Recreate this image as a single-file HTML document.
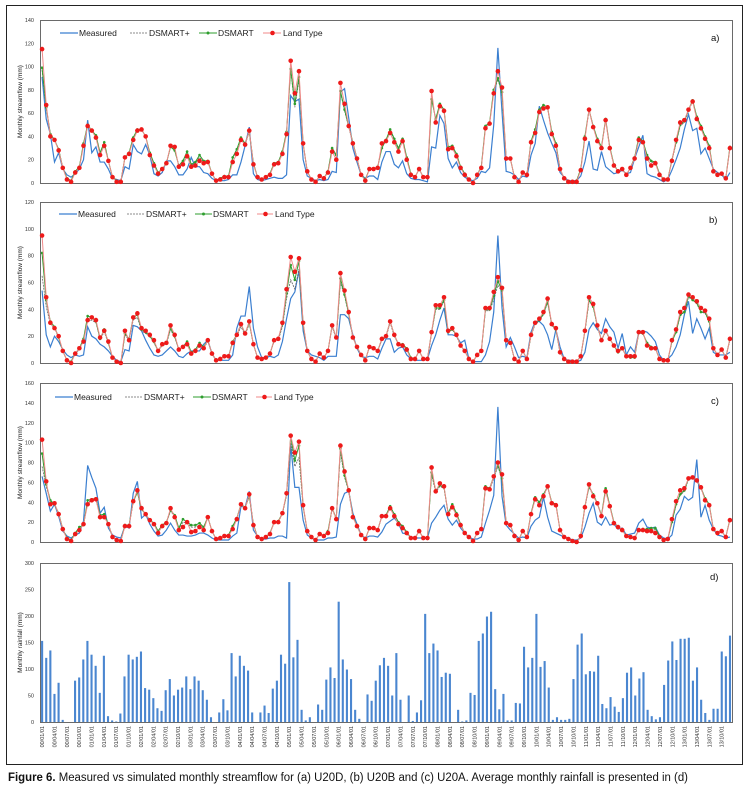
<!DOCTYPE html>
<html>
<head>
<meta charset="utf-8">
<style>
html,body{margin:0;padding:0;background:#fff;}
svg{display:block;font-family:"Liberation Sans",sans-serif;}
</style>
</head>
<body>
<svg id="fig" width="750" height="790" viewBox="0 0 750 790" xmlns="http://www.w3.org/2000/svg">
  <rect x="6.5" y="5.5" width="736" height="759" fill="none" stroke="#222" stroke-width="1"/>
  <text x="8" y="781" font-size="11.5" fill="#111" textLength="680" lengthAdjust="spacingAndGlyphs"><tspan font-weight="bold">Figure 6.</tspan> Measured vs simulated monthly streamflow for (a) U20D, (b) U20B and (c) U20A. Average monthly rainfall is presented in (d)</text>
</svg>
<script>
// ---------- DATA ----------
const measuredA = [91,55,42,18,26,12,7,5,8,12, 20,54,26,31,18,18,12,4,3,2, 14,12,33,27,25,33,24,8,6,9, 19,19,14,7,7,12,22,14,14,9, 8,4,2,2,2,3,7,7,18,32, 48,8,3,2,3,4,5,4,4,7, 75,70,72,20,6,4,2,3,2,3, 10,9,78,81,56,30,18,7,4,6, 6,3,18,27,27,16,13,19,8,4, 3,3,2,1,31,30,58,51,21,13, 18,9,5,3,2,4,10,9,13,50, 116,61,10,9,7,3,6,5,24,34, 66,54,43,34,26,9,5,2,2,2, 6,18,36,12,11,27,14,11,8,9, 11,8,9,21,31,41,8,6,5,3, 1,3,11,20,30,46,59,45,47,25, 30,21,12,9,7,3,9];
const landTypeA = [115,67,40,37,28,13,3,1,9,13, 32,49,45,39,24,32,19,5,1,1, 22,25,37,45,46,40,24,15,8,12, 17,32,31,14,16,23,14,15,19,17, 18,8,2,3,5,5,18,25,37,33, 45,16,5,3,5,7,16,17,25,42, 105,77,96,34,10,3,1,6,4,9, 27,20,86,68,49,34,21,7,2,12, 12,13,34,36,43,35,27,36,20,7, 5,12,5,5,79,52,66,62,29,30, 23,13,7,3,0,7,13,47,51,77, 96,82,21,21,5,1,9,7,35,43, 61,64,65,42,32,12,4,1,1,1, 11,38,63,48,36,30,54,30,15,10, 12,7,13,21,37,35,21,15,17,7, 3,3,19,37,52,54,63,70,55,47, 38,30,10,7,8,4,30];
const dsmartA = [99,65,42,37,29,13,4,2,10,14, 34,50,45,41,26,35,19,5,2,1, 22,26,39,46,46,40,26,17,9,12, 17,31,28,15,19,27,16,18,24,19, 19,8,2,4,6,6,22,29,39,34, 44,17,5,3,5,8,17,18,27,44, 98,68,91,34,10,3,1,6,4,10, 30,24,79,63,49,35,21,7,3,12, 12,14,30,37,46,38,30,38,22,8, 5,12,5,5,72,55,68,63,31,32, 25,14,8,3,0,7,14,49,52,80, 90,78,21,21,5,1,9,7,36,46, 63,67,65,44,34,12,4,1,1,2, 12,40,63,49,38,31,55,31,16,10, 12,7,13,22,39,36,24,19,18,8, 3,3,20,35,50,53,63,71,57,49, 40,32,10,7,8,4,31];
const dsmartPlusA = [97,64,42,37,29,13,4,2,10,14, 33,49,45,40,26,34,19,5,2,1, 22,26,38,45,46,40,25,16,9,12, 17,31,29,15,18,25,15,17,22,18, 19,8,2,4,6,6,21,28,38,33, 44,17,5,3,5,8,17,18,26,43, 97,65,88,33,10,3,1,6,4,10, 29,23,78,62,48,34,21,7,3,12, 12,14,31,36,45,37,29,37,21,8, 5,12,5,5,73,54,66,62,30,31, 24,14,8,3,0,7,14,48,51,78, 89,77,21,21,5,1,9,7,35,44, 62,65,64,43,33,12,4,1,1,2, 12,39,62,48,37,30,54,30,15,10, 12,7,13,21,38,35,23,18,17,8, 3,3,19,34,49,52,62,70,56,48, 39,31,10,7,8,4,30];

const measuredB = [54,21,12,20,16,10,6,4,6,5, 6,27,20,18,14,12,9,5,2,1, 10,9,28,27,24,17,11,6,5,6, 9,12,9,5,4,7,9,9,9,14, 17,7,2,2,2,2,6,26,35,35, 57,26,12,4,4,5,4,6,16,33, 48,53,69,24,9,6,5,4,2,5, 5,5,36,36,33,21,11,5,4,5, 5,3,11,18,18,8,11,12,6,3, 2,2,2,3,13,21,32,41,21,21, 20,15,17,3,1,1,1,6,16,38, 95,41,12,19,12,4,5,4,23,31, 31,28,21,10,25,12,3,2,2,1, 2,8,25,30,25,22,33,27,23,11, 22,6,12,8,23,24,23,20,16,6, 2,3,6,12,21,36,46,22,33,26, 18,26,8,6,6,6,8];
const landTypeB = [95,49,30,26,20,9,2,0,7,11, 16,32,34,32,19,24,16,4,1,0, 24,17,34,37,26,24,21,17,9,14, 15,28,21,10,12,14,7,9,13,11, 17,7,2,3,5,5,15,21,29,22, 31,14,4,3,4,7,17,18,30,55, 79,68,78,30,9,3,1,7,4,9, 28,19,67,54,38,19,12,6,2,12, 11,9,18,20,31,21,14,13,10,3, 3,9,3,3,23,43,43,49,24,26, 21,13,9,3,1,6,9,41,41,53, 64,56,17,15,3,1,9,3,21,30, 33,38,48,29,26,8,3,1,1,1, 5,24,49,44,28,17,24,18,13,9, 11,5,5,5,23,23,13,11,11,3, 2,2,17,25,38,41,51,49,46,41, 39,33,11,6,10,4,18];
const dsmartB = [82,47,31,27,19,9,2,1,7,11, 18,35,34,31,18,25,15,4,1,0, 22,18,34,36,25,23,20,16,9,14, 15,26,20,10,12,16,8,10,15,12, 17,7,2,3,5,5,16,21,29,22, 30,14,4,3,4,7,17,18,29,52, 73,62,76,29,9,3,1,7,4,9, 28,19,63,51,37,19,12,6,2,12, 11,9,18,20,31,21,14,14,11,4, 3,9,3,3,23,41,41,47,23,25, 21,13,9,3,1,6,9,40,40,50, 61,54,17,15,3,1,9,3,21,30, 32,37,46,29,25,8,3,1,1,1, 5,24,47,42,28,17,24,18,13,8, 11,5,4,4,23,22,15,12,11,3, 2,2,16,23,36,38,50,47,45,38, 38,31,11,6,10,4,18];
const dsmartPlusB = [65,42,29,26,19,9,2,1,7,10, 17,31,32,30,18,23,15,4,1,0, 21,17,32,34,24,22,20,15,9,13, 14,25,19,10,12,14,7,9,13,11, 16,7,2,3,5,5,15,20,27,21, 29,14,4,3,4,7,16,17,27,48, 62,55,70,28,9,3,1,7,4,9, 27,18,60,50,36,19,12,6,2,12, 11,9,17,19,30,20,14,13,10,3, 3,9,3,3,22,40,40,46,23,25, 20,13,9,3,1,6,9,39,39,47, 58,53,17,15,3,1,9,3,20,29, 31,36,45,28,25,8,3,1,1,1, 5,23,46,42,27,17,23,18,13,8, 11,5,5,5,22,22,14,11,11,3, 2,2,16,23,35,38,49,47,44,38, 37,31,11,6,10,4,17];

const measuredC = [66,49,31,38,26,11,6,4,7,9, 21,77,65,54,29,35,14,7,5,4, 16,14,49,61,24,28,18,11,6,7, 12,19,12,7,7,6,6,7,9,9, 7,4,2,2,2,2,6,9,36,35, 51,12,6,3,3,4,4,6,6,4, 98,55,55,22,7,4,2,2,2,4, 4,5,38,49,51,29,18,7,4,6, 6,5,10,18,21,24,19,9,8,5, 4,4,4,4,19,25,32,37,23,17, 22,14,9,5,3,3,5,19,32,47, 136,46,17,12,8,4,5,4,16,22, 25,45,25,11,9,7,5,4,2,2, 4,15,29,39,20,17,25,17,18,13, 14,7,8,9,19,23,15,14,15,7, 4,3,7,27,33,46,42,45,83,25, 37,22,13,7,6,4,5];
const landTypeC = [103,61,38,39,28,13,3,1,8,12, 18,38,42,43,25,25,18,5,2,1, 16,16,41,52,34,28,22,18,9,16, 19,34,25,12,15,20,10,11,15,12, 25,11,3,4,6,6,13,23,38,34, 48,17,5,3,5,8,20,20,29,49, 107,90,101,37,11,5,2,8,6,9, 34,23,97,71,52,25,16,7,3,14, 14,12,26,26,34,26,18,14,9,4, 4,11,4,4,75,51,59,56,28,35, 27,17,9,5,1,9,13,54,53,66, 80,68,19,17,6,2,11,5,28,43, 37,46,56,39,37,12,5,3,1,0, 6,35,58,46,39,26,51,36,19,15, 12,6,5,4,12,12,11,11,9,5, 2,3,23,41,52,54,64,65,62,55, 42,37,13,9,11,5,22];
const dsmartC = [89,58,42,38,29,13,4,2,9,15, 17,42,43,44,27,28,18,5,2,1, 17,17,41,50,33,28,22,19,11,17, 20,32,27,14,23,20,17,17,19,15, 25,11,3,4,6,7,16,24,38,35, 46,18,5,3,5,9,20,21,29,48, 106,82,97,36,11,5,2,8,6,11, 34,24,94,67,52,26,16,7,3,14, 14,12,26,27,36,28,20,16,10,4, 4,11,4,4,70,52,57,55,29,38, 29,18,9,5,1,9,13,56,54,66, 78,64,19,17,6,2,11,5,29,45, 40,48,56,40,38,12,5,3,1,0, 6,36,56,48,39,27,54,37,20,15, 12,6,5,4,12,13,13,14,14,6, 2,3,20,38,48,52,64,65,62,55, 44,38,13,9,11,5,23];
const dsmartPlusC = [76,56,41,38,28,13,4,2,9,14, 17,40,42,43,26,27,18,5,2,1, 17,17,40,50,33,28,22,18,10,16, 19,31,26,13,20,19,15,15,17,14, 24,11,3,4,6,7,15,23,37,34, 46,18,5,3,5,9,19,20,28,47, 100,76,85,35,11,5,2,8,6,10, 33,23,90,65,51,25,16,7,3,14, 14,12,26,26,35,27,19,15,10,4, 4,11,4,4,68,50,56,54,28,36, 28,17,9,5,1,9,13,54,52,64, 76,63,19,17,6,2,11,5,28,44, 38,46,55,39,37,12,5,3,1,0, 6,35,55,47,38,26,52,36,19,15, 12,6,5,4,12,12,12,13,12,6, 2,3,20,37,47,51,63,64,61,54, 43,37,13,9,11,5,22];

const rainfallD = [153,121,135,53,74,4,0,0,78,84, 118,153,127,106,55,125,11,3,1,16, 86,127,118,123,133,64,61,45,26,21, 60,81,50,61,65,86,62,86,78,60, 42,9,0,18,43,22,130,86,125,106, 97,18,0,18,31,17,63,78,127,110, 264,122,155,23,3,9,0,33,23,80, 103,83,227,118,99,81,23,6,0,52, 40, 78,107,121,106,50,130,42,0,50,2, 18,41,204,130,148,135,85,93,91,0, 23,1,3,55,51,153,167,199,208,62, 24,53,3,3,36,35,142,103,121,204, 104,115,65,4,9,4,4,6,81,146, 167,90,96,95,125,34,26,47,29,19, 45,93,103,50,82,94,23,11,5,9, 70,116,152,117,157,157,159,78,103,42, 17,4,25,25,133,124,163];

const tickA = [0,20,40,60,80,100,120,140];
const tickB = [0,20,40,60,80,100,120];
const tickC = [0,20,40,60,80,100,120,140,160];
const tickD = [0,50,100,150,200,250,300];
const startYear = 0, startMonth = 1, labelStep = 3;

// ---------- DRAW ----------
const NS = "http://www.w3.org/2000/svg";
const svg = document.getElementById('fig');
function mk(tag, attrs, parent){
  const e = document.createElementNS(NS, tag);
  for (const k in attrs) e.setAttribute(k, attrs[k]);
  (parent||svg).appendChild(e);
  return e;
}
const X0 = 40, X1 = 732;
function xScale(i, n){ const w=(X1-X0)/n; return X0 + w*(i+0.5); }
function yScale(v, p){ return p.bottom - (v - 0)/(p.max) * (p.bottom - p.top); }

const panels = [
  {id:'a', top:20, bottom:183, max:140, ticks:tickA, title:'Monthly streamflow (mm)', label:'a)', lx:711, ly:41,
   leg:[60,78,130,148,199,217,263,282], legY:33,
   series:{measured:measuredA, plus:dsmartPlusA, dsmart:dsmartA, land:landTypeA}},
  {id:'b', top:202, bottom:363, max:120, ticks:tickB, title:'Monthly streamflow (mm)', label:'b)', lx:709, ly:223,
   leg:[59,77,127,145,195,212,257,274], legY:214,
   series:{measured:measuredB, plus:dsmartPlusB, dsmart:dsmartB, land:landTypeB}},
  {id:'c', top:383, bottom:542, max:160, ticks:tickC, title:'Monthly streamflow (mm)', label:'c)', lx:711, ly:404,
   leg:[55,73,125,143,193,211,256,273], legY:397,
   series:{measured:measuredC, plus:dsmartPlusC, dsmart:dsmartC, land:landTypeC}},
  {id:'d', top:563, bottom:722, max:300, ticks:tickD, title:'Monthly rainfall (mm)', label:'d)', lx:710, ly:580}
];

function pathFor(arr, p){
  let d='';
  arr.forEach((v,i)=>{ d += (i?'L':'M') + xScale(i,arr.length).toFixed(2)+','+yScale(v,p).toFixed(2); });
  return d;
}

panels.forEach(p=>{
  const g = mk('g',{});
  
  
  const box = mk('rect',{x:X0+0.5,y:p.top+0.5,width:X1-X0,height:p.bottom-p.top,fill:'none',stroke:'#6a6a6a','stroke-width':1},g);
  
  
  p.ticks.forEach(t=>{
    const tt = mk('text',{x:34,y:yScale(t,p)+2,'font-size':5.5,'text-anchor':'end',fill:'#333'},g);
    tt.textContent = t;
    
    
  });
  const cy = (p.top+p.bottom)/2;
  const yt = mk('text',{x:22,y:cy,'font-size':6.5,'text-anchor':'middle',fill:'#222',transform:'rotate(-90 22 '+cy+')'},g);
  yt.textContent = p.title;
  
  
  const pl = mk('text',{x:p.lx,y:p.ly,'font-size':9.5,fill:'#111'},g);
  pl.textContent = p.label;
  
  

  if (p.series){
    const s = p.series;
    const m = mk('path',{d:pathFor(s.measured,p),fill:'none',stroke:'#3b7fd0','stroke-width':1.2},g);
    
    
    const pp = mk('path',{d:pathFor(s.plus,p),fill:'none',stroke:'#666','stroke-width':0.8,'stroke-dasharray':'2,1'},g);
    
    
    const ds = mk('path',{d:pathFor(s.dsmart,p),fill:'none',stroke:'#2e9e2e','stroke-width':1},g);
    
    
    s.dsmart.forEach((v,i)=>{
      const c = mk('circle',{cx:xScale(i,s.dsmart.length),cy:yScale(v,p),r:1.3,fill:'#2e9e2e'},g);
      
      
    });
    const lt = mk('path',{d:pathFor(s.land,p),fill:'none',stroke:'#f08a8a','stroke-width':1},g);
    
    
    s.land.forEach((v,i)=>{
      const c = mk('circle',{cx:xScale(i,s.land.length),cy:yScale(v,p),r:2.3,fill:'#ee1a1a'},g);
      
      
    });
    // legend
    const L = p.leg, ly = p.legY, fs = 8.5;
    const lg = mk('g',{},g);
    
    
    const e1 = mk('line',{x1:L[0],y1:ly,x2:L[1],y2:ly,stroke:'#3b7fd0','stroke-width':1.3},lg);
    
    
    const t1 = mk('text',{x:L[1]+1,y:ly+3,'font-size':fs,fill:'#222'},lg); t1.textContent='Measured';
    
    
    const e2 = mk('line',{x1:L[2],y1:ly,x2:L[3],y2:ly,stroke:'#666','stroke-width':0.8,'stroke-dasharray':'2,1'},lg);
    
    
    const t2 = mk('text',{x:L[3]+1,y:ly+3,'font-size':fs,fill:'#222'},lg); t2.textContent='DSMART+';
    
    
    const e3 = mk('line',{x1:L[4],y1:ly,x2:L[5],y2:ly,stroke:'#2e9e2e','stroke-width':1},lg);
    
    
    mk('circle',{cx:(L[4]+L[5])/2,cy:ly,r:1.5,fill:'#2e9e2e'},lg);
    const t3 = mk('text',{x:L[5]+1,y:ly+3,'font-size':fs,fill:'#222'},lg); t3.textContent='DSMART';
    
    
    const e4 = mk('line',{x1:L[6],y1:ly,x2:L[7]-1,y2:ly,stroke:'#f08a8a','stroke-width':1},lg);
    
    
    mk('circle',{cx:(L[6]+L[7])/2,cy:ly,r:2.3,fill:'#ee1a1a'},lg);
    const t4 = mk('text',{x:L[7]+1,y:ly+3,'font-size':fs,fill:'#222'},lg); t4.textContent='Land Type';
    
    
  } else {
    const n = rainfallD.length;
    rainfallD.forEach((v,i)=>{
      const y = yScale(v,p);
      const b = mk('rect',{x:xScale(i,n)-1,y:y,width:2.1,height:p.bottom-y,fill:'#4a86d0'},g);
      
      
    });
    for (let i=0;i<n;i+=labelStep){
      const tot = startMonth-1+i;
      const yy = startYear + Math.floor(tot/12), mm = tot%12+1;
      const lab = String(yy).padStart(2,'0')+'/'+String(mm).padStart(2,'0')+'/01';
      const x = xScale(i,n)+2;
      const t = mk('text',{x:x,y:726,'font-size':5.5,'text-anchor':'end',fill:'#333',transform:'rotate(-90 '+x+' 726)'},g);
      t.textContent = lab;
      
      
    }
  }
});
</script>
</body>
</html>
